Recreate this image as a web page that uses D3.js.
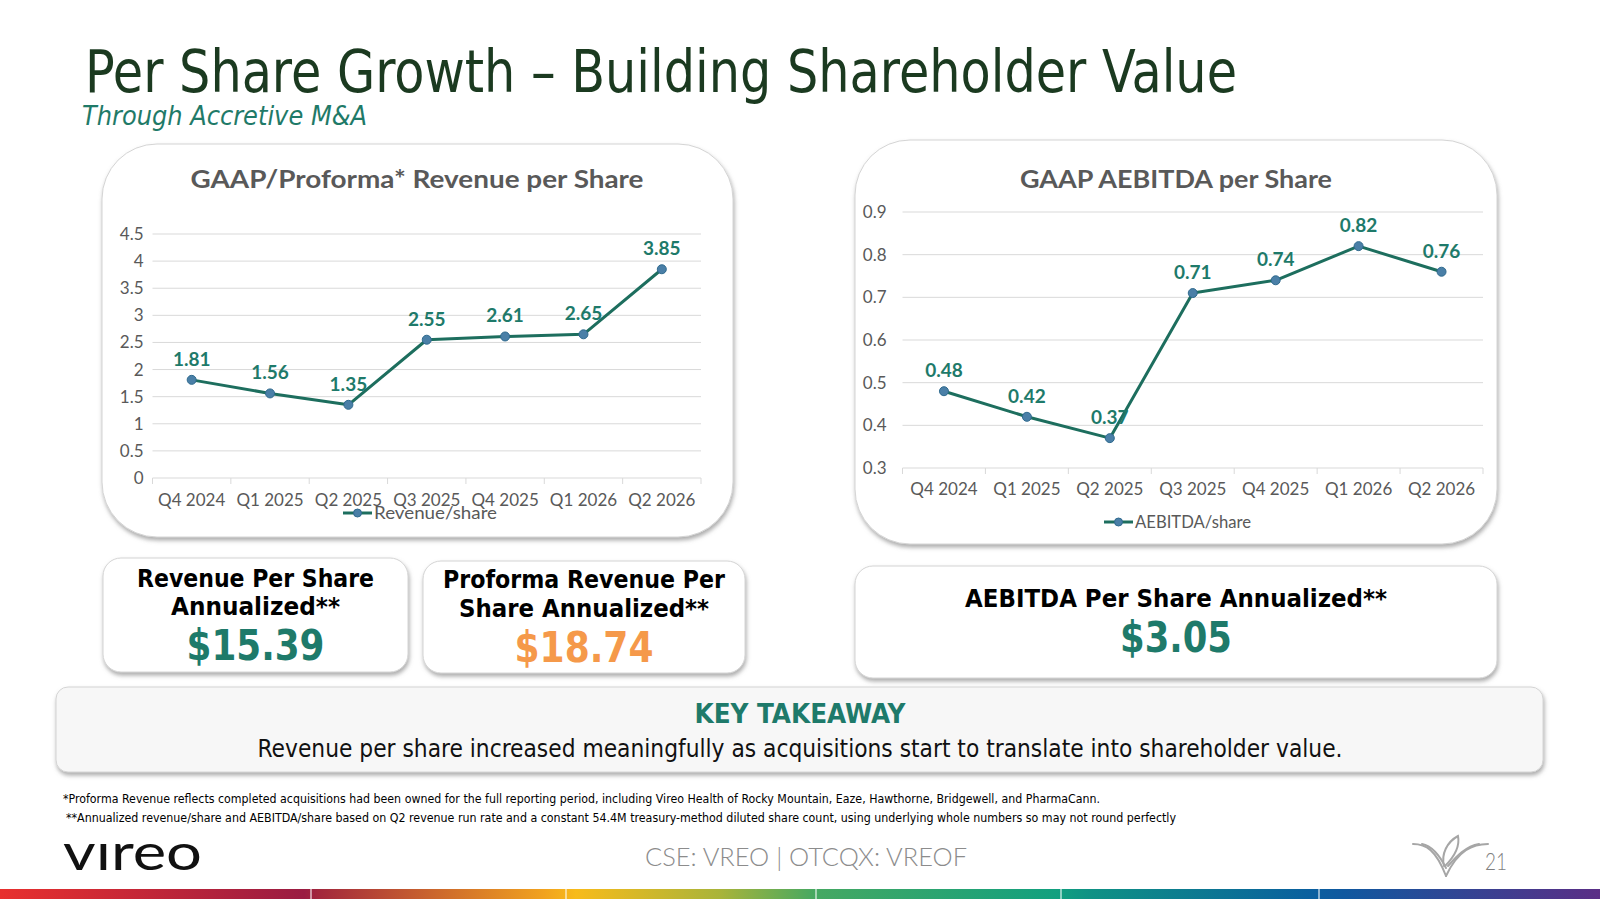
<!DOCTYPE html>
<html>
<head>
<meta charset="utf-8">
<script src="https://cdn.jsdelivr.net/npm/d3@7"></script>
<style>
  html, body { margin: 0; padding: 0; background: #fff; }
  svg { display: block; }
</style>
</head>
<body>
<svg id="slide" width="1600" height="899"></svg>
<script>
// chart data
const quarters = ["Q4 2024", "Q1 2025", "Q2 2025", "Q3 2025", "Q4 2025", "Q1 2026", "Q2 2026"];
const revenuePerShare = [1.81, 1.56, 1.35, 2.55, 2.61, 2.65, 3.85];
const aebitdaPerShare = [0.48, 0.42, 0.37, 0.71, 0.74, 0.82, 0.76];
const revenueTicks = [0, 0.5, 1, 1.5, 2, 2.5, 3, 3.5, 4, 4.5];
const aebitdaTicks = [0.3, 0.4, 0.5, 0.6, 0.7, 0.8, 0.9];

// headline numbers
const kpiTitles = [
    ["Revenue Per Share", "Annualized**"],
    ["Proforma Revenue Per", "Share Annualized**"],
    ["AEBITDA Per Share Annualized**"]
];
const kpiValues = ["$15.39", "$18.74", "$3.05"];

const footnotes = [
    "*Proforma Revenue reflects completed acquisitions had been owned for the full reporting period, including Vireo Health of Rocky Mountain, Eaze, Hawthorne, Bridgewell, and PharmaCann.",
    "**Annualized revenue/share and AEBITDA/share based on Q2 revenue run rate and a constant 54.4M treasury-method diluted share count, using underlying whole numbers so may not round perfectly"
];

const TEAL = "#1e7a6a";
const LINE = "#1d6e5e";
const GREY = "#595959";
const BODY = "'DejaVu Sans Condensed', 'DejaVu Sans', sans-serif";
const CHART = "Lato, 'Open Sans', sans-serif";

const svg = d3.select("#slide");

// shadow filter for the rounded cards
const defs = svg.append("defs");
const shadow = defs.append("filter").attr("id", "shadow")
    .attr("x", "-5%").attr("y", "-5%").attr("width", "110%").attr("height", "120%");
shadow.append("feDropShadow")
    .attr("dx", 1).attr("dy", 3).attr("stdDeviation", 2)
    .attr("flood-color", "#808080").attr("flood-opacity", 0.65);

// helper for plain text, optionally squeezed to a measured width
function addText(parent, x, y, str, o) {
    const t = parent.append("text")
        .attr("x", x).attr("y", y)
        .attr("font-family", o.family || BODY)
        .attr("font-size", o.size)
        .attr("font-weight", o.weight || "normal")
        .attr("font-style", o.style || "normal")
        .attr("fill", o.fill || "#000")
        .attr("text-anchor", o.anchor || "start")
        .text(str);
    if (o.width) t.attr("textLength", o.width).attr("lengthAdjust", "spacingAndGlyphs");
    return t;
}

function drawCard(x, y, w, h, r, fill) {
    svg.append("rect")
        .attr("x", x).attr("y", y).attr("width", w).attr("height", h)
        .attr("rx", r).attr("ry", r)
        .attr("fill", fill || "#fff")
        .attr("stroke", "#d4d4d4").attr("stroke-width", 1)
        .attr("filter", "url(#shadow)");
}

// title block
addText(svg, 85, 92, "Per Share Growth \u2013 Building Shareholder Value",
    { size: 58, fill: "#1b3a20", width: 1152 });
addText(svg, 82, 125, "Through Accretive M&A",
    { size: 26, style: "italic", fill: "#1f7a68", width: 285 });

// chart cards
drawCard(102, 144, 631, 393, 55);
drawCard(855, 140, 642, 404, 55);

function drawLineChart(cfg) {
    const x = d3.scaleBand().domain(quarters).range(cfg.xRange);
    const y = d3.scaleLinear().domain(cfg.domain).range(cfg.yRange);
    const g = svg.append("g");
    const points = quarters.map((q, i) => ({ q: q, v: cfg.values[i] }));

    addText(g, cfg.titleX, 188, cfg.title,
        { family: CHART, size: 25, weight: "bold", fill: GREY, anchor: "middle", width: cfg.titleWidth });

    // horizontal gridlines
    g.append("g").selectAll("line")
        .data(cfg.ticks)
        .enter().append("line")
        .attr("x1", cfg.xRange[0]).attr("x2", cfg.xRange[1])
        .attr("y1", d => y(d)).attr("y2", d => y(d))
        .attr("stroke", "#d9d9d9").attr("stroke-width", 1);

    // y axis labels
    const yAxis = g.append("g")
        .attr("transform", `translate(${cfg.xRange[0]},0)`)
        .call(d3.axisLeft(y).tickValues(cfg.ticks).tickSize(0)
            .tickPadding(cfg.yPad).tickFormat(d => String(d)));
    yAxis.select(".domain").remove();
    yAxis.selectAll("text")
        .attr("font-family", CHART).attr("font-size", 17).attr("fill", GREY);

    // x axis labels
    const y0 = cfg.yRange[0];
    const xAxis = g.append("g")
        .attr("transform", `translate(0,${y0})`)
        .call(d3.axisBottom(x).tickSize(0));
    xAxis.select(".domain").remove();
    xAxis.selectAll("text")
        .attr("y", cfg.xLabelGap).attr("dy", null)
        .attr("font-family", CHART).attr("font-size", 17).attr("fill", GREY);

    // category boundary ticks
    const bounds = quarters.map(q => x(q)).concat([cfg.xRange[1]]);
    g.append("g").selectAll("line")
        .data(bounds)
        .enter().append("line")
        .attr("x1", d => d).attr("x2", d => d)
        .attr("y1", y0).attr("y2", y0 + 6)
        .attr("stroke", "#d9d9d9");

    // series line
    const line = d3.line()
        .x(d => x(d.q) + x.bandwidth() / 2)
        .y(d => y(d.v));
    g.append("path")
        .datum(points)
        .attr("d", line)
        .attr("fill", "none")
        .attr("stroke", LINE)
        .attr("stroke-width", 3)
        .attr("stroke-linejoin", "round");

    g.append("g").selectAll("circle")
        .data(points)
        .enter().append("circle")
        .attr("cx", d => x(d.q) + x.bandwidth() / 2)
        .attr("cy", d => y(d.v))
        .attr("r", 4.5)
        .attr("fill", "#4a7fa7")
        .attr("stroke", "#2f6a8e")
        .attr("stroke-width", 1);

    // value labels
    g.append("g").selectAll("text")
        .data(points)
        .enter().append("text")
        .attr("x", d => x(d.q) + x.bandwidth() / 2)
        .attr("y", d => y(d.v) - 14)
        .attr("text-anchor", "middle")
        .attr("font-family", CHART)
        .attr("font-size", 19)
        .attr("font-weight", "bold")
        .attr("fill", TEAL)
        .text(d => d.v.toFixed(2));

    // legend
    const lg = cfg.legend;
    g.append("line")
        .attr("x1", lg.x).attr("x2", lg.x + 29)
        .attr("y1", lg.y).attr("y2", lg.y)
        .attr("stroke", LINE).attr("stroke-width", 3);
    g.append("circle")
        .attr("cx", lg.x + 14.5).attr("cy", lg.y).attr("r", 4)
        .attr("fill", "#4a7fa7").attr("stroke", "#2f6a8e");
    addText(g, lg.x + 31, lg.y + 6, cfg.legendLabel,
        { family: CHART, size: 17, fill: GREY, width: lg.w });
}

drawLineChart({
    title: "GAAP/Proforma* Revenue per Share",
    titleX: 417, titleWidth: 453,
    values: revenuePerShare,
    ticks: revenueTicks,
    domain: [0, 4.5],
    xRange: [152.5, 701],
    yRange: [478, 234],
    yPad: 9,
    xLabelGap: 28,
    legend: { x: 343, y: 513, w: 123 },
    legendLabel: "Revenue/share"
});

drawLineChart({
    title: "GAAP AEBITDA per Share",
    titleX: 1176, titleWidth: 312,
    values: aebitdaPerShare,
    ticks: aebitdaTicks,
    domain: [0.3, 0.9],
    xRange: [902.5, 1483],
    yRange: [468, 212],
    yPad: 16,
    xLabelGap: 27,
    legend: { x: 1104, y: 522, w: 116 },
    legendLabel: "AEBITDA/share"
});

// kpi boxes
const kpiBoxes = [
    { x: 103, y: 558, w: 305, h: 114, title: [[587, 237], [615, 169]], value: [660, 138], color: TEAL },
    { x: 423, y: 561, w: 322, h: 112, title: [[588, 282], [617, 250]], value: [662, 139], color: "#f5994a" },
    { x: 855, y: 566, w: 642, h: 112, title: [[607, 422]], value: [652, 112], color: TEAL }
];
kpiBoxes.forEach((b, i) => {
    drawCard(b.x, b.y, b.w, b.h, 18);
    const cx = b.x + b.w / 2;
    kpiTitles[i].forEach((str, j) => {
        addText(svg, cx, b.title[j][0], str,
            { size: 25, weight: "bold", fill: "#000", anchor: "middle", width: b.title[j][1] });
    });
    addText(svg, cx, b.value[0], kpiValues[i],
        { size: 42, weight: "bold", fill: b.color, anchor: "middle", width: b.value[1] });
});

// key takeaway banner
drawCard(56, 687, 1487, 85, 12, "#f7f7f7");
addText(svg, 800, 723, "KEY TAKEAWAY",
    { size: 27, weight: "bold", fill: TEAL, anchor: "middle", width: 211 });
addText(svg, 800, 757, "Revenue per share increased meaningfully as acquisitions start to translate into shareholder value.",
    { size: 24, fill: "#111", anchor: "middle", width: 1085 });

// footnotes
addText(svg, 63, 803, footnotes[0], { size: 12.5, fill: "#000", width: 1037 });
addText(svg, 66, 822, footnotes[1], { size: 12.5, fill: "#000", width: 1110 });

// footer
addText(svg, 63, 870, "v\u0131reo",
    { family: "Lato, sans-serif", size: 50, weight: 400, fill: "#111", width: 139 });
addText(svg, 806, 866, "CSE: VREO | OTCQX: VREOF",
    { family: CHART, size: 25, weight: 300, fill: "#8c8c8c", anchor: "middle", width: 322 });
addText(svg, 1485, 870, "21",
    { family: CHART, size: 23, weight: 300, fill: "#7f7f7f", width: 22 });

// small V mark
const mark = svg.append("g")
    .attr("transform", "translate(1413,835)")
    .attr("fill", "none").attr("stroke", "#a6a6a6")
    .attr("stroke-width", 2).attr("stroke-linecap", "round");
[
    "M0,9 C13,9 23,15 33,41",
    "M75,9 C60,9 45,15 33,41",
    "M9,9 C19,11 27,21 33,33",
    "M66,9 C53,11 43,22 35,31",
    "M31,31 C28,19 34,7 45,1 C47,11 41,22 32,31"
].forEach(d => mark.append("path").attr("d", d));

// rainbow strip along the bottom edge
const grad = defs.append("linearGradient").attr("id", "rainbow")
    .attr("x1", "0%").attr("x2", "100%").attr("y1", "0%").attr("y2", "0%");
[
    [0, "#e8302e"], [0.19, "#9a1c42"], [0.2, "#a3283c"], [0.34, "#f1a21f"],
    [0.36, "#f7bb1b"], [0.45, "#a9b43a"], [0.51, "#45a862"], [0.66, "#12a07f"],
    [0.68, "#0f9284"], [0.82, "#0a5f9f"], [0.84, "#10589f"], [1, "#5b2e86"]
].forEach(s => grad.append("stop").attr("offset", s[0]).attr("stop-color", s[1]));
svg.append("rect")
    .attr("x", 0).attr("y", 889).attr("width", 1600).attr("height", 10)
    .attr("fill", "url(#rainbow)");
[311, 566, 816, 1061, 1319].forEach(sx => {
    svg.append("line")
        .attr("x1", sx).attr("x2", sx).attr("y1", 889).attr("y2", 899)
        .attr("stroke", "#fff").attr("stroke-opacity", 0.7).attr("stroke-width", 1.5);
});
</script>
</body>
</html>
